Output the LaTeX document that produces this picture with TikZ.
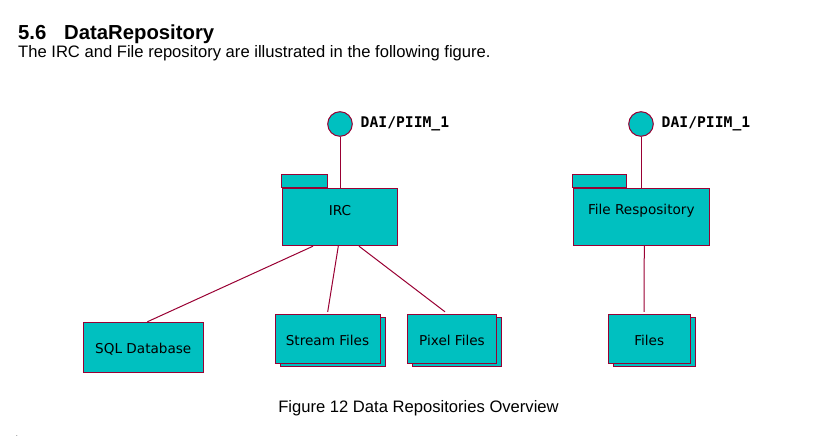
\documentclass[tikz,border=0pt]{standalone}
\usepackage{fontspec}
\setmainfont{Liberation Sans}
\newfontfamily\dejasans{DejaVu Sans}
\newfontfamily\dejamono{DejaVu Sans Mono}
\usetikzlibrary{shadows}
\definecolor{umlfill}{RGB}{0,192,192}
\definecolor{umlline}{RGB}{153,0,51}
\tikzset{
  umlbox/.style={draw=umlline, fill=umlfill, line width=1pt, inner sep=0pt, text height=13pt, text depth=0pt, font=\dejasans\fontsize{13.6}{15}\selectfont},
  stackbox/.style={umlbox, copy shadow={shadow xshift=5pt, shadow yshift=-3pt, draw=umlline, fill=umlfill, line width=1pt}},
  iface/.style={circle, draw=umlline, fill=umlfill, line width=1pt, minimum size=24.6pt, inner sep=0pt},
  ifacelabel/.style={anchor=west, inner sep=0pt, font=\dejamono\bfseries\fontsize{14.7}{16}\selectfont},
  conn/.style={draw=umlline, line width=1pt},
  pkgtext/.style={inner sep=0pt, font=\dejasans\fontsize{13.6}{15}\selectfont},
}
\begin{document}
\begin{tikzpicture}[x=1pt,y=-1pt]
\useasboundingbox (0,0) rectangle (820,437);
% heading and text
\node[anchor=base west, inner sep=0pt, font=\bfseries\fontsize{20.3}{24}\selectfont] (hnum) at (18,39) {5.6};
\node[anchor=base west, inner sep=0pt, font=\bfseries\fontsize{20.3}{24}\selectfont] (htitle) at (64,39) {DataRepository};
\node[anchor=base west, inner sep=0pt, font=\fontsize{16.6}{19}\selectfont] (body) at (18,57.5) {The IRC and File repository are illustrated in the following figure.};
\node[anchor=base, inner sep=0pt, font=\fontsize{16.6}{19}\selectfont] (caption) at (418.5,412) {Figure 12 Data Repositories Overview};
\node[anchor=base west, inner sep=0pt, font=\fontsize{6}{7}\selectfont] (dot) at (16,436.5) {.};

% IRC package
\node[umlbox, minimum width=115.4pt, minimum height=57.4pt] (irc) at (340,217) {};
\draw[conn, fill=umlfill] (irc.north west) rectangle ++(45.4,-13) coordinate (irctab);
\node[pkgtext] (irct) at (340,211) {IRC};
\node[iface] (c1) at (340,124) {};
\node[ifacelabel] (l1) at (360.5,123.5) {DAI/PIIM\_1};
\draw[conn] (c1.south) -- (c1.south |- irc.north);

% File repository package
\node[umlbox, minimum width=136pt, minimum height=57.4pt] (frep) at (641.3,217) {};
\draw[conn, fill=umlfill] (frep.north west) rectangle ++(53.4,-13) coordinate (freptab);
\node[pkgtext] (frept) at (641.3,211) {File Respository};
\node[iface] (c2) at (641,124) {};
\node[ifacelabel] (l2) at (661.5,123.5) {DAI/PIIM\_1};
\draw[conn] (c2.south) -- (c2.south |- frep.north);

% leaf boxes
\node[umlbox, minimum width=120pt, minimum height=50pt] (sql) at (143.3,347.3) {SQL Database};
\node[stackbox, minimum width=105pt, minimum height=49pt] (stream) at (327.5,338.8) {Stream Files};
\node[stackbox, minimum width=89.4pt, minimum height=49pt] (pixel) at (452,338.8) {Pixel Files};
\node[stackbox, minimum width=81.7pt, minimum height=49pt] (files) at (649.2,338.8) {Files};

% connectors
\draw[conn] ([xshift=-27pt]irc.south) -- ([xshift=4pt]sql.north);
\draw[conn] ([xshift=-1.7pt]irc.south) -- ([xshift=0.2pt,yshift=2pt]stream.north);
\draw[conn] ([xshift=19pt]irc.south) -- ([xshift=-7pt,yshift=2pt]pixel.north);
\draw[conn] ([xshift=3pt]frep.south) -- ([xshift=-5.2pt,yshift=2pt]files.north);
\end{tikzpicture}
\end{document}
